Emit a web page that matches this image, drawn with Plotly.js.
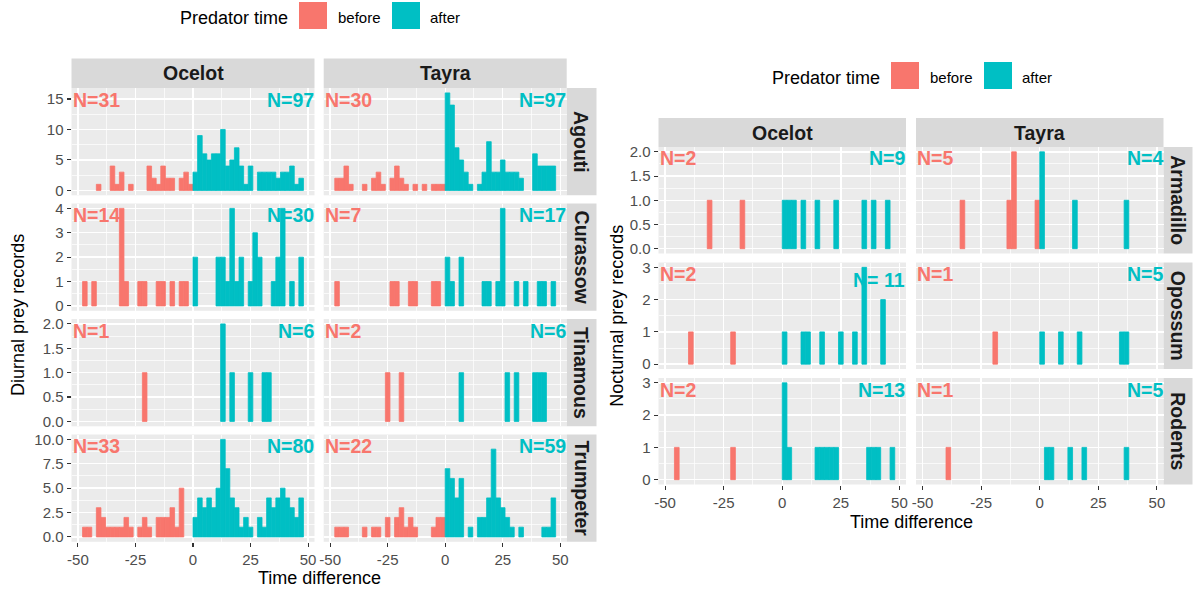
<!DOCTYPE html>
<html><head><meta charset="utf-8">
<script src="https://cdn.plot.ly/plotly-3.0.1.min.js"></script>
<style>html,body{margin:0;padding:0;background:#fff}#chart{width:1193px;height:592px}</style>
</head><body><div id="chart"></div>
<script>
// ---------- DATA ----------
const binBefore = [-49,-47,-45,-43,-41,-39,-37,-35,-33,-31,-29,-27,-25,-23,-21,-19,-17,-15,-13,-11,-9,-7,-5,-3,-1];
const binAfter  = [1,3,5,7,9,11,13,15,17,19,21,23,25,27,29,31,33,35,37,39,41,43,45,47,49];
const xTickVals = [-50,-25,0,25,50];
const xTickText = ['-50','-25','0','25','50'];

const predators = ['Ocelot','Tayra'];
const diurnalPrey = ['Agouti','Curassow','Tinamous','Trumpeter'];
const nocturnalPrey = ['Armadillo','Opossum','Rodents'];
const groupLabels = ['before','after'];

// Diurnal prey, counts per 2-unit bin
const ocelotAgoutiBefore    = [0,0,0,0,1, 0,0,4,1,3, 0,1,0,0,0, 4,2,1,4,2, 2,0,2,3,1];
const ocelotAgoutiAfter     = [3,9,6,5,6, 6,10,4,5,7, 4,1,4,0,3, 3,3,3,2,3, 3,4,1,2,0];
const tayraAgoutiBefore     = [0,2,2,4,1, 0,0,1,0,2, 3,1,0,2,4, 2,1,0,1,0, 1,0,1,1,1];
const tayraAgoutiAfter      = [16,14,7,5,3, 1,0,1,3,8, 3,3,5,3,3, 3,2,0,0,6, 4,4,4,4,0];
const ocelotCurassowBefore  = [0,1,0,1,0, 0,0,0,0,4, 1,0,0,1,1, 0,0,1,1,0, 1,0,1,1,0];
const ocelotCurassowAfter   = [2,0,0,0,0, 2,2,1,4,1, 2,0,1,3,2, 0,0,1,2,4, 0,1,0,2,0];
const tayraCurassowBefore   = [0,1,0,0,0, 0,0,0,0,0, 0,0,0,1,1, 0,0,1,1,0, 0,0,1,1,0];
const tayraCurassowAfter    = [2,1,0,2,0, 0,0,0,1,1, 0,1,4,0,0, 1,0,1,0,0, 1,1,0,1,0];
const ocelotTinamousBefore  = [0,0,0,0,0, 0,0,0,0,0, 0,0,0,0,1, 0,0,0,0,0, 0,0,0,0,0];
const ocelotTinamousAfter   = [0,0,0,0,0, 0,2,0,1,0, 0,0,1,0,0, 1,1,0,0,0, 0,0,0,0,0];
const tayraTinamousBefore   = [0,0,0,0,0, 0,0,0,0,0, 0,0,1,0,0, 1,0,0,0,0, 0,0,0,0,0];
const tayraTinamousAfter    = [0,0,0,1,0, 0,0,0,0,0, 0,0,0,1,0, 1,0,0,0,1, 1,1,0,0,0];
const ocelotTrumpeterBefore = [0,1,1,0,3, 2,1,1,1,1, 2,1,0,1,2, 1,0,2,2,2, 3,1,5,0,0];
const ocelotTrumpeterAfter  = [2,4,3,4,3, 5,10,7,4,3, 1,2,1,0,2, 1,4,3,4,5, 4,3,2,4,0];
const tayraTrumpeterBefore  = [0,1,1,1,0, 0,0,1,0,1, 1,0,2,0,2, 3,1,2,1,0, 0,0,1,2,2];
const tayraTrumpeterAfter   = [7,6,4,6,0, 1,0,2,2,4, 9,4,3,2,1, 0,1,0,0,0, 0,1,1,4,0];

// Nocturnal prey
const ocelotArmadilloBefore = [0,0,0,0,0, 0,0,0,0,1, 0,0,0,0,0, 0,1,0,0,0, 0,0,0,0,0];
const ocelotArmadilloAfter  = [1,1,1,0,1, 0,0,1,0,0, 0,1,0,0,0, 0,0,1,0,1, 0,0,1,0,0];
const tayraArmadilloBefore  = [0,0,0,0,0, 0,0,0,1,0, 0,0,0,0,0, 0,0,0,1,2, 0,0,0,0,1];
const tayraArmadilloAfter   = [2,0,0,0,0, 0,0,1,0,0, 0,0,0,0,0, 0,0,0,1,0, 0,0,0,0,0];
const ocelotOpossumBefore   = [0,0,0,0,0, 1,0,0,0,0, 0,0,0,0,1, 0,0,0,0,0, 0,0,0,0,0];
const ocelotOpossumAfter    = [1,0,0,0,1, 1,0,0,1,0, 0,0,1,0,0, 1,0,3,0,0, 0,2,0,0,0];
const tayraOpossumBefore    = [0,0,0,0,0, 0,0,0,0,0, 0,0,0,0,0, 1,0,0,0,0, 0,0,0,0,0];
const tayraOpossumAfter     = [1,0,0,0,1, 0,0,0,1,0, 0,0,0,0,0, 0,0,1,1,0, 0,0,0,0,0];
const ocelotRodentsBefore   = [0,0,1,0,0, 0,0,0,0,0, 0,0,0,0,1, 0,0,0,0,0, 0,0,0,0,0];
const ocelotRodentsAfter    = [3,1,0,0,0, 0,0,1,1,1, 1,1,0,0,0, 0,0,0,1,1, 1,0,0,1,0];
const tayraRodentsBefore    = [0,0,0,0,0, 1,0,0,0,0, 0,0,0,0,0, 0,0,0,0,0, 0,0,0,0,0];
const tayraRodentsAfter     = [0,1,1,0,0, 0,1,0,0,1, 0,0,0,0,0, 0,0,0,1,0, 0,0,0,0,0];

// N labels [row][predator]
const diurnalNBefore = [['N=31','N=30'],['N=14','N=7'],['N=1','N=2'],['N=33','N=22']];
const diurnalNAfter  = [['N=97','N=97'],['N=30','N=17'],['N=6','N=6'],['N=80','N=59']];
const nocturnalNBefore = [['N=2','N=5'],['N=2','N=1'],['N=2','N=1']];
const nocturnalNAfter  = [['N=9','N=4'],['N= 11','N=5'],['N=13','N=5']];

const diurnalCounts = [
  [[ocelotAgoutiBefore,ocelotAgoutiAfter],[tayraAgoutiBefore,tayraAgoutiAfter]],
  [[ocelotCurassowBefore,ocelotCurassowAfter],[tayraCurassowBefore,tayraCurassowAfter]],
  [[ocelotTinamousBefore,ocelotTinamousAfter],[tayraTinamousBefore,tayraTinamousAfter]],
  [[ocelotTrumpeterBefore,ocelotTrumpeterAfter],[tayraTrumpeterBefore,tayraTrumpeterAfter]]
];
const nocturnalCounts = [
  [[ocelotArmadilloBefore,ocelotArmadilloAfter],[tayraArmadilloBefore,tayraArmadilloAfter]],
  [[ocelotOpossumBefore,ocelotOpossumAfter],[tayraOpossumBefore,tayraOpossumAfter]],
  [[ocelotRodentsBefore,ocelotRodentsAfter],[tayraRodentsBefore,tayraRodentsAfter]]
];

// ---------- LAYOUT ----------
const W = 1193, H = 592;
const fx = p => p / W, fy = p => 1 - p / H;
const C_BEFORE = '#F8766D', C_AFTER = '#00BFC4';
const FONT = '"Liberation Sans", Arial, sans-serif';
const nz = arr => arr.map(v => (v === 0 ? null : v)); // empty bins draw nothing

const traces = [], shapes = [], annotations = [];
const layout = {
  width: W, height: H, margin: {l:0, r:0, t:0, b:0},
  paper_bgcolor: '#FFFFFF', plot_bgcolor: '#EBEBEB',
  showlegend: false, barmode: 'overlay', font: {family: FONT},
  shapes: shapes, annotations: annotations
};

let k = 0;
function addFigure(fig) {
  const nRows = fig.rows.length;
  for (let r = 0; r < nRows; r++) {
    for (let c = 0; c < 2; c++) {
      k++;
      const sfx = k > 1 ? String(k) : '';
      const xa = 'x' + sfx, ya = 'y' + sfx;
      const [x0, x1] = fig.cols[c], [y0, y1] = fig.rows[r];
      const bottom = r === nRows - 1, left = c === 0;
      const yc = fig.yconf[r];
      layout['xaxis' + sfx] = {
        domain: [fx(x0), fx(x1)], anchor: ya, range: [-52.8, 52.8],
        tickmode: 'array', tickvals: xTickVals, ticktext: xTickText,
        showticklabels: bottom, ticks: bottom ? 'outside' : '', ticklen: 4, tickwidth: 1.1, tickcolor: '#333333',
        tickfont: {family: FONT, size: 15, color: '#4D4D4D'},
        showgrid: true, gridcolor: '#FFFFFF', gridwidth: 1.4, zeroline: false, showline: false, fixedrange: true,
        minor: {tickmode: 'array', tickvals: [-37.5, -12.5, 12.5, 37.5], showgrid: true, gridcolor: '#FFFFFF', gridwidth: 0.7, ticks: ''}
      };
      layout['yaxis' + sfx] = {
        domain: [fy(y1), fy(y0)], anchor: xa, range: yc.range,
        tickmode: 'linear', tick0: 0, dtick: yc.dtick, tickformat: yc.fmt,
        showticklabels: left, ticks: left ? 'outside' : '', ticklen: 4, tickwidth: 1.1, tickcolor: '#333333',
        tickfont: {family: FONT, size: 15, color: '#4D4D4D'},
        showgrid: true, gridcolor: '#FFFFFF', gridwidth: 1.4, zeroline: false, showline: false, fixedrange: true,
        minor: {tick0: 0, dtick: yc.dtick / 2, showgrid: true, gridcolor: '#FFFFFF', gridwidth: 0.7, ticks: ''}
      };
      const [cb, ca] = fig.counts[r][c];
      traces.push({type: 'bar', name: groupLabels[0], x: binBefore, y: nz(cb), width: 2,
        marker: {color: C_BEFORE, line: {color: C_BEFORE, width: 0.8}}, xaxis: xa, yaxis: ya, hoverinfo: 'skip'});
      traces.push({type: 'bar', name: groupLabels[1], x: binAfter, y: nz(ca), width: 2,
        marker: {color: C_AFTER, line: {color: C_AFTER, width: 0.8}}, xaxis: xa, yaxis: ya, hoverinfo: 'skip'});
      // N labels
      annotations.push({xref: 'paper', yref: 'paper', x: fx(x0 - 1), y: fy(y0 - 1.5), xanchor: 'left', yanchor: 'top',
        text: '<b>' + fig.nB[r][c] + '</b>', showarrow: false, font: {family: FONT, size: 19.5, color: C_BEFORE}});
      const aTxt = fig.nA[r][c];
      const shift = aTxt.indexOf(' ') >= 0 ? 6 : 0;
      annotations.push({xref: 'paper', yref: 'paper', x: fx(x1 + 1), y: fy(y0 - 1.5 + shift), xanchor: 'right', yanchor: 'top',
        text: '<b>' + aTxt + '</b>', showarrow: false, font: {family: FONT, size: 19.5, color: C_AFTER}});
      // top strips
      if (r === 0) {
        shapes.push({type: 'rect', xref: 'paper', yref: 'paper', x0: fx(x0), x1: fx(x1), y0: fy(fig.strip[1]), y1: fy(fig.strip[0]),
          fillcolor: '#D9D9D9', line: {width: 0}, layer: 'below'});
        annotations.push({xref: 'paper', yref: 'paper', x: fx((x0 + x1) / 2), y: fy((fig.strip[0] + fig.strip[1]) / 2),
          xanchor: 'center', yanchor: 'middle', text: '<b>' + predators[c] + '</b>', showarrow: false,
          font: {family: FONT, size: 19.5, color: '#1A1A1A'}});
      }
      // side strips
      if (c === 1) {
        shapes.push({type: 'rect', xref: 'paper', yref: 'paper', x0: fx(fig.side[0]), x1: fx(fig.side[1]), y0: fy(y1), y1: fy(y0),
          fillcolor: '#D9D9D9', line: {width: 0}, layer: 'below'});
        annotations.push({xref: 'paper', yref: 'paper', x: fx((fig.side[0] + fig.side[1]) / 2), y: fy((y0 + y1) / 2),
          xanchor: 'center', yanchor: 'middle', textangle: 90, text: '<b>' + fig.prey[r] + '</b>', showarrow: false,
          font: {family: FONT, size: 19.5, color: '#1A1A1A'}});
      }
    }
  }
  // axis titles
  const cx = (fig.cols[0][0] + fig.cols[1][1]) / 2;
  annotations.push({xref: 'paper', yref: 'paper', x: fx(cx), y: fy(fig.xTitleY), xanchor: 'center', yanchor: 'middle',
    text: 'Time difference', showarrow: false, font: {family: FONT, size: 18, color: '#000000'}});
  const cy = (fig.rows[0][0] + fig.rows[nRows - 1][1]) / 2;
  annotations.push({xref: 'paper', yref: 'paper', x: fx(fig.yTitleX), y: fy(cy), xanchor: 'center', yanchor: 'middle',
    textangle: -90, text: fig.yTitle, showarrow: false, font: {family: FONT, size: 18, color: '#000000'}});
  // legend
  const L = fig.legend; // [titleLeft, centerY]
  annotations.push({xref: 'paper', yref: 'paper', x: fx(L[0]), y: fy(L[1] + 2), xanchor: 'left', yanchor: 'middle',
    text: 'Predator time', showarrow: false, font: {family: FONT, size: 18, color: '#000000'}});
  const keys = [[121, C_BEFORE, 160, groupLabels[0]], [214, C_AFTER, 252, groupLabels[1]]];
  keys.forEach(kk => {
    shapes.push({type: 'rect', xref: 'paper', yref: 'paper', x0: fx(L[0] + kk[0]), x1: fx(L[0] + kk[0] + 28),
      y0: fy(L[1] + 13.5), y1: fy(L[1] - 13.5), fillcolor: kk[1], line: {width: 0}});
    annotations.push({xref: 'paper', yref: 'paper', x: fx(L[0] + kk[2] - 2), y: fy(L[1] + 2), xanchor: 'left', yanchor: 'middle',
      text: kk[3], showarrow: false, font: {family: FONT, size: 15, color: '#000000'}});
  });
}

addFigure({
  cols: [[71.5, 314.5], [323.7, 566.7]],
  rows: [[88, 195.3], [203.5, 310.8], [319, 426.3], [434.5, 541.8]],
  strip: [58.5, 88], side: [566.7, 596.5],
  yconf: [{range: [-0.8, 16.8], dtick: 5, fmt: ''}, {range: [-0.2, 4.2], dtick: 1, fmt: ''},
          {range: [-0.1, 2.1], dtick: 0.5, fmt: '.1f'}, {range: [-0.5, 10.5], dtick: 2.5, fmt: '.1f'}],
  counts: diurnalCounts, nB: diurnalNBefore, nA: diurnalNAfter, prey: diurnalPrey,
  xTitleY: 578, yTitleX: 18, yTitle: 'Diurnal prey records', legend: [178, 15.5]
});
addFigure({
  cols: [[658.5, 906], [916, 1163.5]],
  rows: [[147, 253.5], [262.5, 369], [378, 484.5]],
  strip: [118, 147], side: [1163.5, 1192.5],
  yconf: [{range: [-0.1, 2.1], dtick: 0.5, fmt: '.1f'}, {range: [-0.15, 3.15], dtick: 1, fmt: ''},
          {range: [-0.15, 3.15], dtick: 1, fmt: ''}],
  counts: nocturnalCounts, nB: nocturnalNBefore, nA: nocturnalNAfter, prey: nocturnalPrey,
  xTitleY: 522, yTitleX: 617, yTitle: 'Nocturnal prey records', legend: [770, 75.5]
});

Plotly.newPlot('chart', traces, layout, {staticPlot: true, displayModeBar: false});
</script>
</body></html>
